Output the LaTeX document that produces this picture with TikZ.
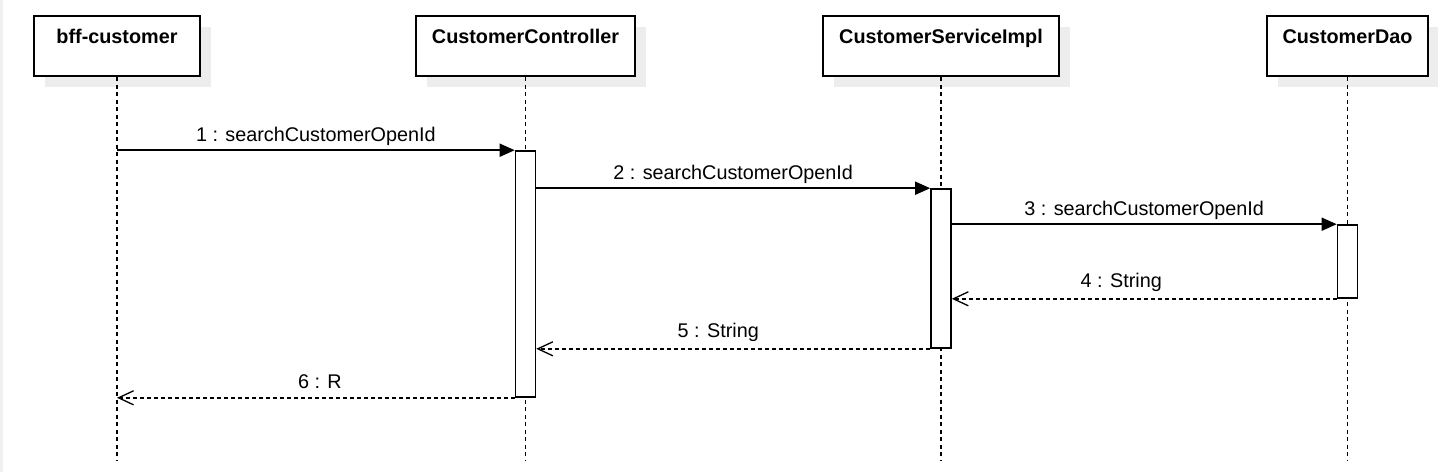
\documentclass[tikz,border=0pt]{standalone}
\usepackage{fontspec}
\setmainfont{Liberation Sans}
\usetikzlibrary{arrows.meta, shadows}

\begin{document}
\begin{tikzpicture}[
  x=1pt, y=-1pt,
  every node/.style={font=\fontsize{19.8}{23}\selectfont},
  objbox/.style={draw, line width=2pt, fill=white, inner sep=0pt,
                 minimum width=#1, text height=27pt, text depth=33pt,
                 font=\fontsize{19.8}{23}\selectfont\bfseries,
                 drop shadow={shadow xshift=11pt, shadow yshift=-11pt,
                              fill=black!7, opacity=1}},
  actbox/.style={draw, line width=1.6pt, fill=white, inner sep=0pt,
                 minimum width=20pt, minimum height=#1},
  lifeline/.style={line width=1.7pt, dash pattern=on 4pt off 3.5pt},
  msg/.style={line width=1.6pt, -{Triangle[length=15pt, width=13pt]}},
  reply/.style={line width=1.4pt, dash pattern=on 4pt off 3pt,
                -{Straight Barb[length=15pt, width=14pt, line width=1.3pt]}},
  msglbl/.style={anchor=base, inner sep=0pt}
]
  \useasboundingbox (0,0) rectangle (1438,472);
  \fill[black!6] (0,0) rectangle (2.5,472);

  %% Objects
  \node[objbox=166pt] (bff)  at (117,   46) {bff-customer};
  \node[objbox=219pt] (ctrl) at (525.5, 46) {CustomerController};
  \node[objbox=236pt] (svc)  at (941,   46) {CustomerServiceImpl};
  \node[objbox=161pt] (dao)  at (1347.5,46) {CustomerDao};

  %% Lifelines
  \coordinate (bffend)  at (117,   460);
  \coordinate (ctrlend) at (525.5, 460);
  \coordinate (svcend)  at (941,   460);
  \coordinate (daoend)  at (1347.5,460);
  \draw[lifeline] (bff.south)  -- (bffend);
  \draw[lifeline] (ctrl.south) -- (ctrlend);
  \draw[lifeline] (svc.south)  -- (svcend);
  \draw[lifeline] (dao.south)  -- (daoend);

  %% Activations
  \node[actbox=246pt] (actctrl) at (525.5, 274)   {};
  \node[actbox=159pt] (actsvc)  at (941,   268.5) {};
  \node[actbox=73pt]  (actdao)  at (1347.5,261.5) {};

  %% Calls
  \draw[msg] (bff |- actctrl.north) -- (actctrl.north west)
    node[msglbl, midway, yshift=9pt] {1 : searchCustomerOpenId};
  \draw[msg] (actctrl.east |- actsvc.north) -- (actsvc.north west)
    node[msglbl, midway, yshift=9pt] {2 : searchCustomerOpenId};
  \draw[msg] (actsvc.east |- actdao.north) -- (actdao.north west)
    node[msglbl, midway, yshift=9pt] {3 : searchCustomerOpenId};

  %% Returns
  \draw[reply] (actdao.south west) -- (actsvc.east |- actdao.south)
    node[msglbl, midway, yshift=11pt, xshift=-23pt] {4 : String};
  \draw[reply] (actsvc.south west) -- (actctrl.east |- actsvc.south)
    node[msglbl, midway, yshift=11pt, xshift=-15pt] {5 : String};
  \draw[reply] (actctrl.south west) -- (bff |- actctrl.south)
    node[msglbl, midway, yshift=9pt, xshift=4pt] {6 : R};
\end{tikzpicture}
\end{document}
